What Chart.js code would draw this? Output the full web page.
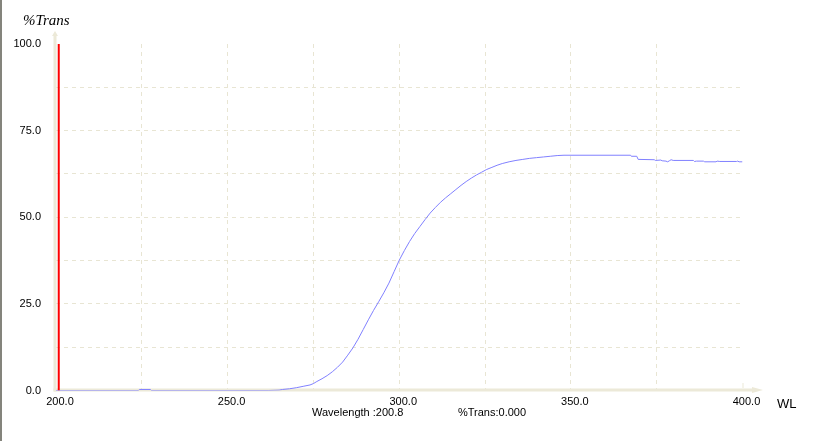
<!DOCTYPE html>
<html>
<head>
<meta charset="utf-8">
<script src="https://cdn.jsdelivr.net/npm/chart.js@4/dist/chart.umd.min.js"></script>
<style>
  html, body { margin: 0; padding: 0; background: #ffffff; overflow: hidden; }
  #wrap { position: relative; width: 822px; height: 441px; }
  #c { position: absolute; left: 0; top: 0; }
  #edge { position: absolute; left: 0; top: 0; width: 2px; height: 441px; background: #84847c; }
  .t { position: absolute; white-space: nowrap; color: #000; }
  #ytitle { left: 23px; top: 11px; font: italic 15px "Liberation Serif", serif; line-height: 18px; }
  #xtitle { left: 777px; top: 397px; font: 13px "Liberation Sans", sans-serif; line-height: 14px; }
  .readout { top: 406px; font: 11px "Liberation Sans", sans-serif; line-height: 13px; }
</style>
</head>
<body>
<div id="wrap">
  <canvas id="c" width="822" height="441" style="width:822px;height:441px"></canvas>
  <div id="edge"></div>
  <div class="t" id="ytitle">%Trans</div>
  <div class="t" id="xtitle">WL</div>
  <div class="t readout" id="wlread" style="left:312px"></div>
  <div class="t readout" id="trread" style="left:458px"></div>
</div>
<script>
// ---- data ----
const wavelengths = [
  200, 224, 224.3, 227.5, 227.8, 262, 265, 266, 268, 270, 272, 274, 275, 276, 277.5,
  279, 280.5, 282, 283.5, 285, 286.5, 288, 289.5, 291, 292.5, 294, 295.5, 297, 298.5,
  300, 301.5, 303, 304.5, 306, 307.5, 309, 310.5, 312, 313.5, 315, 316.5, 318, 319.5,
  321, 322.5, 324, 325.5, 327, 328.5, 330, 332, 334, 336, 338, 340, 342, 344, 346, 348,
  367.4, 367.6, 369.2, 369.6, 374.3, 374.6, 376.2, 376.6, 377.7, 378.2, 378.7, 379.2,
  379.8, 385.7, 386.0, 386.6, 388.6, 389.0, 392.3, 392.6, 393.4, 398.3, 398.6, 399.0, 400
];
const transmittance = [
  0, 0, 0.3, 0.3, 0, 0, 0.1, 0.3, 0.5, 0.8, 1.2, 1.6, 2.0, 2.6, 3.4,
  4.3, 5.4, 6.7, 8.2, 10.2, 12.3, 14.8, 17.6, 20.4, 23.1, 25.6, 28.2, 31.0, 34.3,
  37.6, 40.4, 43.0, 45.3, 47.3, 49.3, 51.2, 52.8, 54.3, 55.6, 56.8, 58.0, 59.2, 60.3,
  61.3, 62.2, 63.0, 63.8, 64.4, 65.0, 65.5, 66.0, 66.4, 66.7, 67.0, 67.2, 67.4, 67.6, 67.8, 67.9,
  67.9, 67.6, 67.6, 66.7, 66.6, 66.4, 66.5, 66.3, 66.2, 66.0, 66.3, 66.6,
  66.4, 66.4, 66.1, 66.2, 66.2, 66.0, 66.0, 66.2, 66.1, 66.1, 66.2, 66.0, 66.0
];
const cursorWavelength = 200.8;
const cursorTrans = 0.000;
const cursorSpan = [0, 100];
const xTicks = [200, 225, 250, 275, 300, 325, 350, 375, 400];
const yTicks = [0, 12.5, 25, 37.5, 50, 62.5, 75, 87.5, 100];
const xLabelStep = 50;
const yLabelStep = 25;

// ---- styles ----
const gridColor = '#e8e5d3';
const axisColor = '#ece9d8';
const curveColor = '#8080ff';
const cursorColor = '#ff0000';

const spectrum = wavelengths.map((w, i) => ({ x: w, y: transmittance[i] }));
const cursorLine = cursorSpan.map(v => ({ x: cursorWavelength, y: v }));

document.getElementById('wlread').textContent = 'Wavelength :' + cursorWavelength.toFixed(1);
document.getElementById('trread').textContent = '%Trans:' + cursorTrans.toFixed(3);

const axisDeco = {
  id: 'axisDeco',
  beforeDatasetsDraw(chart) {
    const { ctx, chartArea: a, scales: { x } } = chart;
    ctx.save();
    ctx.fillStyle = axisColor;
    const lx = a.left - 1;          // centre of the vertical axis bar
    const by = a.bottom - 0.5;      // centre of the horizontal axis bar
    // vertical bar
    ctx.fillRect(lx - 1.5, 35, 3, by + 1.5 - 35);
    // small top cap
    ctx.beginPath();
    ctx.moveTo(lx - 3, 36); ctx.lineTo(lx, 31); ctx.lineTo(lx + 3, 36); ctx.closePath();
    ctx.fill();
    // horizontal bar
    ctx.fillRect(lx - 1.5, by - 1.5, 753 - (lx - 1.5), 3);
    // arrow head
    ctx.beginPath();
    ctx.moveTo(752, by - 3); ctx.lineTo(763, by); ctx.lineTo(752, by + 3); ctx.closePath();
    ctx.fill();
    // small end tick
    const ex = Math.round(x.getPixelForValue(xTicks[xTicks.length - 1])) - 0.5;
    ctx.fillRect(ex, by - 7, 1, 5);
    ctx.restore();
  }
};

new Chart(document.getElementById('c'), {
  type: 'scatter',
  data: {
    datasets: [
      { data: spectrum, showLine: true, borderColor: curveColor, borderWidth: 1,
        pointRadius: 0, tension: 0, order: 2 },
      { data: cursorLine, showLine: true, borderColor: cursorColor, borderWidth: 2,
        pointRadius: 0, order: 1 }
    ]
  },
  options: {
    responsive: false,
    animation: false,
    devicePixelRatio: 1,
    layout: { padding: { left: 0, top: 44, right: 79.5, bottom: 0 } },
    plugins: { legend: { display: false }, tooltip: { enabled: false }, title: { display: false } },
    scales: {
      x: {
        type: 'linear', min: 200, max: 400,
        afterBuildTicks: s => { s.ticks = xTicks.map(v => ({ value: v })); },
        afterFit: s => { s.height = 50.5; },
        grid: {
          drawTicks: false,
          lineWidth: 1,
          color: c => (c.tick && (c.tick.value === xTicks[0] || c.tick.value === xTicks[xTicks.length - 1])) ? 'rgba(0,0,0,0)' : gridColor
        },
        border: { display: false, dash: [4, 4] },
        ticks: {
          autoSkip: false, maxRotation: 0, padding: 5, labelOffset: 4,
          color: '#000', font: { family: 'Liberation Sans', size: 11 },
          callback: v => (v % xLabelStep === 0 ? v.toFixed(1) : '')
        }
      },
      y: {
        type: 'linear', min: 0, max: 100,
        afterBuildTicks: s => { s.ticks = yTicks.map(v => ({ value: v })); },
        afterFit: s => { s.width = 56; },
        grid: {
          drawTicks: false,
          lineWidth: 1,
          color: c => (c.tick && (c.tick.value === yTicks[0] || c.tick.value === yTicks[yTicks.length - 1])) ? 'rgba(0,0,0,0)' : gridColor
        },
        border: { display: false, dash: [4, 4] },
        ticks: {
          autoSkip: false, padding: 15, color: '#000',
          font: { family: 'Liberation Sans', size: 11 },
          callback: v => (v % yLabelStep === 0 ? v.toFixed(1) : '')
        }
      }
    }
  },
  plugins: [axisDeco]
});
</script>
</body>
</html>
